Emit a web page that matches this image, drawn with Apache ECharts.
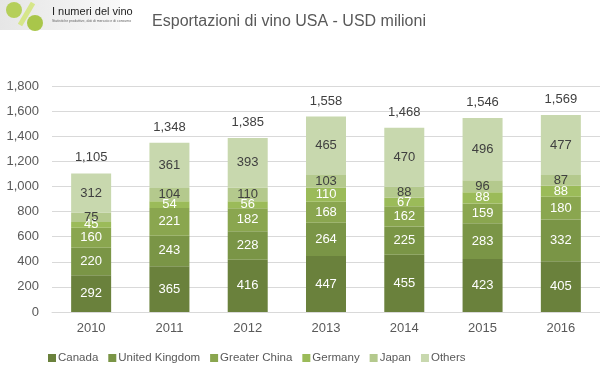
<!DOCTYPE html>
<html><head><meta charset="utf-8">
<script src="https://cdn.jsdelivr.net/npm/echarts@6/dist/echarts.min.js"></script>
<style>html,body{margin:0;padding:0;background:#fff}#c{width:600px;height:378px}</style>
</head><body><div id="c"></div>
<script>
const years = ['2010','2011','2012','2013','2014','2015','2016'];
const canada = [292,365,416,447,455,423,405];
const uk = [220,243,228,264,225,283,332];
const china = [160,221,182,168,162,159,180];
const germany = [45,54,56,110,67,88,88];
const japan = [75,104,110,103,88,96,87];
const others = [312,361,393,465,470,496,477];
const totals = [1105,1348,1385,1558,1468,1546,1569];
const names = ['Canada','United Kingdom','Greater China','Germany','Japan','Others'];
const colors = ['#6a813c','#7a9546','#8aa64f','#9bbb59','#b4c98d','#c8d8ae'];
const labelColors = ['#ffffff','#ffffff','#ffffff','#ffffff','#404040','#404040'];
const FONT = "'Liberation Sans Narrow','Arial Narrow','Liberation Sans',sans-serif";
const seriesData = [canada,uk,china,germany,japan,others];
const chart = echarts.init(document.getElementById('c'));
const series = seriesData.map((d,i)=>({
  name: names[i], type:'bar', stack:'s', data:d, barWidth:40,
  itemStyle:{color:colors[i]},
  label:{show:true, position:'inside', color:labelColors[i], fontSize:13, fontFamily:FONT},
  emphasis:{disabled:true}
}));
series.push({
  name:'Total', type:'bar', stack:'s', data: years.map(()=>0), barWidth:40,
  itemStyle:{color:'transparent'},
  label:{show:true, position:'top', distance:9, color:'#404040', fontSize:13, fontFamily:FONT,
    formatter:p=>totals[p.dataIndex].toLocaleString('en-US')},
  emphasis:{disabled:true}
});
chart.setOption({
  animation:false,
  textStyle:{fontFamily:FONT},
  title:{text:'Esportazioni di vino USA - USD milioni', left:284, textAlign:'center', top:9,
    textStyle:{fontSize:16, fontWeight:'normal', color:'#595959', fontFamily:FONT}},
  legend:{data:names, bottom:9, left:43, itemWidth:8, itemHeight:8, itemGap:10,
    icon:'rect', textStyle:{fontSize:11.5, color:'#595959', fontFamily:FONT, padding:[0,0,0,-3]}},
  grid:{left:52, right:0, top:86, bottom:66},
  xAxis:{type:'category', data:years, axisLine:{lineStyle:{color:'#d9d9d9'}}, axisTick:{show:false},
    axisLabel:{color:'#595959', fontSize:13, margin:10, fontFamily:FONT}},
  yAxis:{type:'value', min:0, max:1800, interval:200,
    axisLabel:{color:'#595959', fontSize:13, margin:13, fontFamily:FONT,
      formatter:v=>v.toLocaleString('en-US')},
    splitLine:{lineStyle:{color:'#d9d9d9'}}, axisLine:{show:false}, axisTick:{show:false}},
  graphic:[
    {type:'rect', shape:{x:0,y:0,width:120,height:30}, style:{fill:{type:'linear',x:0,y:0,x2:1,y2:0,colorStops:[{offset:0,color:'#e6e6e6'},{offset:1,color:'#f8f8f8'}]}}},
    {type:'circle', shape:{cx:14,cy:10,r:8}, style:{fill:'#b5cf5a'}},
    {type:'line', shape:{x1:20,y1:25,x2:33,y2:3}, style:{stroke:'#d6e68a', lineWidth:5}},
    {type:'circle', shape:{cx:35,cy:23,r:8}, style:{fill:'#a9c64a'}},
    {type:'text', left:52, top:6, style:{text:'I numeri del vino', fontSize:11, fontFamily:"'Liberation Sans',sans-serif", fill:'#222'}},
    {type:'text', left:52, top:19, style:{text:'Statistiche produttive, dati di mercato e di consumo', fontSize:3.5, fill:'#666'}}
  ],
  series:series
});
</script></body></html>
